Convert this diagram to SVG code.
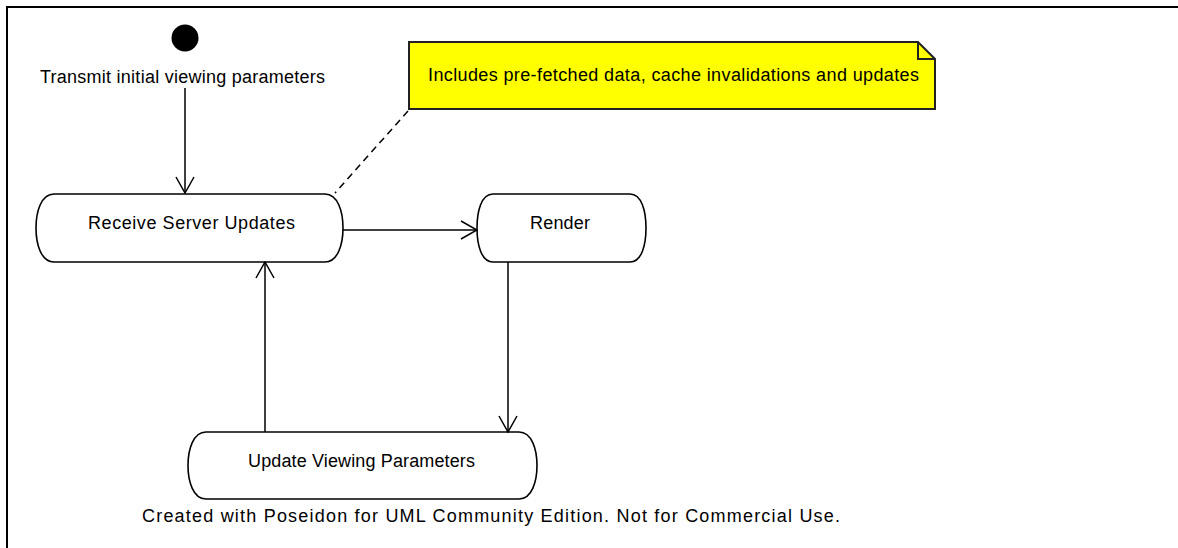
<svg xmlns="http://www.w3.org/2000/svg" width="1178" height="548" viewBox="0 0 1178 548">
<style>
  text { font-family: "Liberation Sans", Arial, sans-serif; font-size: 18px; fill: #000; }
  .state { fill: #fff; stroke: #000; stroke-width: 1.6; }
  .edge { fill: none; stroke: #000; stroke-width: 1.5; }
  .dash { fill: none; stroke: #000; stroke-width: 1.5; stroke-dasharray: 7 5; }
  .frame { fill: none; stroke: #000; stroke-width: 2; }
</style>
<defs>
  <marker id="open" viewBox="0 0 18 20" refX="17" refY="10" markerWidth="18" markerHeight="20" markerUnits="userSpaceOnUse" orient="auto">
    <path d="M1,1 L17,10 L1,19" fill="none" stroke="#000" stroke-width="1.5"/>
  </marker>
</defs>
<rect width="1178" height="548" fill="#fff"/>
<path class="frame" d="M7,548 V7 H1178"/>

<g id="initial">
  <circle cx="185" cy="38" r="13.5" fill="#000"/>
  <text x="40" y="83" textLength="285" lengthAdjust="spacing">Transmit initial viewing parameters</text>
</g>

<g id="note">
  <path d="M409,42 H918 L935,59 V109 H409 Z" fill="#ffff00" stroke="#222" stroke-width="2"/>
  <path d="M918,42 V59 H935" fill="none" stroke="#222" stroke-width="2"/>
  <text x="428" y="81" textLength="491" lengthAdjust="spacing">Includes pre-fetched data, cache invalidations and updates</text>
</g>

<g id="receive">
  <path class="state" d="M54,194 H325 C338,194 343,212 343,228 C343,244 338,262 325,262 H54 C41,262 36,244 36,228 C36,212 41,194 54,194 Z"/>
  <text x="191.5" y="229" text-anchor="middle" textLength="207" lengthAdjust="spacing">Receive Server Updates</text>
</g>

<g id="render">
  <path class="state" d="M493,194 H630 C642,194 646,212 646,228 C646,244 642,262 630,262 H493 C481,262 477,244 477,228 C477,212 481,194 493,194 Z"/>
  <text x="560" y="229" text-anchor="middle" textLength="60" lengthAdjust="spacing">Render</text>
</g>

<g id="update">
  <path class="state" d="M206,432 H519 C532,432 537,450 537,465.5 C537,481 532,499 519,499 H206 C193,499 188,481 188,465.5 C188,450 193,432 206,432 Z"/>
  <text x="361.5" y="467" text-anchor="middle" textLength="227" lengthAdjust="spacing">Update Viewing Parameters</text>
</g>

<g id="connectors">
  <line class="edge" x1="185" y1="88" x2="185" y2="193" marker-end="url(#open)"/>
  <line class="edge" x1="343" y1="230" x2="477" y2="230" marker-end="url(#open)"/>
  <line class="edge" x1="508" y1="262" x2="508" y2="432" marker-end="url(#open)"/>
  <line class="edge" x1="265" y1="432" x2="265" y2="262" marker-end="url(#open)"/>
  <line class="dash" x1="408" y1="111" x2="335" y2="193"/>
</g>

<text x="142" y="522" textLength="698" lengthAdjust="spacing">Created with Poseidon for UML Community Edition. Not for Commercial Use.</text>
</svg>
